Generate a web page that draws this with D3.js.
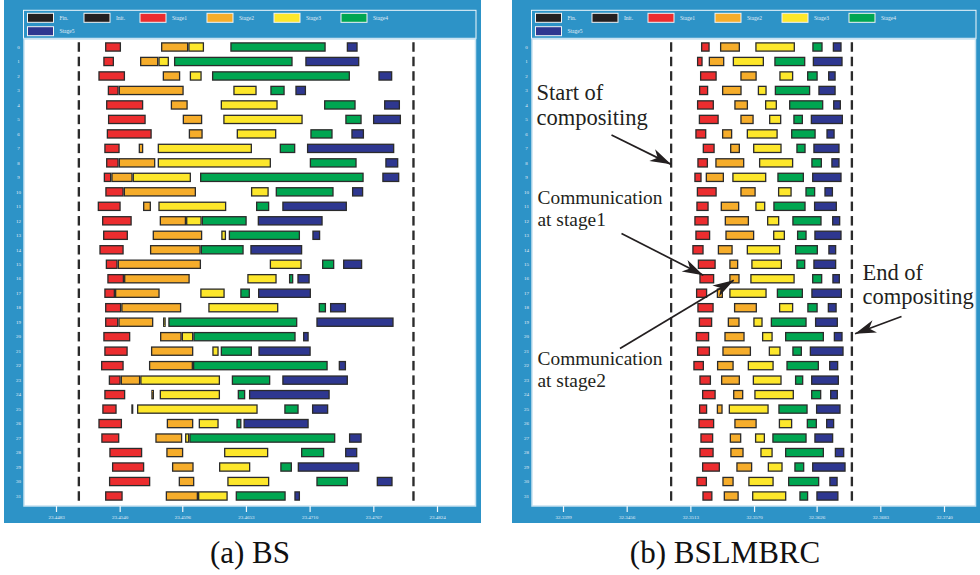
<!DOCTYPE html>
<html>
<head>
<meta charset="utf-8">
<script src="https://cdn.jsdelivr.net/npm/d3@7"></script>
<style>
  body { margin: 0; background: #fff; }
  svg { display: block; }
</style>
</head>
<body>
<svg id="chart" width="980" height="575"></svg>
<script>
// ---- shared ----
const legendNames = ["Fin.", "Init.", "Stage1", "Stage2", "Stage3", "Stage4", "Stage5"];
const legendColors = ["#231f20", "#231f20", "#ec2d2f", "#f6ad2b", "#fde72b", "#00a651", "#2e3790"];
const rowIds = d3.range(32);

// ---- (a) BS : times in ms after the origin (seconds) ----
const bsOrigin = 23.4483;
const bsTicks = [23.4483, 23.4540, 23.4596, 23.4653, 23.4710, 23.4767, 23.4824];
const bsInit = [1.94, 2.15];
const bsFin = [31.89, 32.10];
const bsStage1 = [[4.39,5.82],[4.23,5.19],[3.79,6.18],[4.63,5.61],[4.48,7.81],[4.65,8.03],[4.54,8.57],[4.32,5.70],
  [4.48,5.61],[4.27,4.95],[4.41,6.06],[3.73,5.79],[4.12,6.78],[4.21,6.44],[3.88,6.06],[4.45,5.52],
  [4.59,6.09],[4.32,5.28],[4.39,5.84],[4.39,5.58],[4.23,6.65],[4.32,6.42],[4.03,6.06],[4.72,5.79],
  [4.32,6.20],[4.14,5.43],[3.79,5.91],[4.05,5.67],[4.77,7.72],[5.01,7.90],[4.74,8.44],[4.39,5.97]];
const bsStage2 = [[9.40,11.84],[7.52,9.16],[9.55,11.12],[5.61,11.43],[10.27,11.79],[11.34,13.09],[11.88,13.13],[7.40,7.81],
  [5.61,8.89],[4.95,6.86],[6.06,12.53],[7.79,8.50],[9.28,11.64],[8.65,13.09],[8.41,12.95],[5.52,12.98],
  [6.09,11.97],[5.28,9.28],[5.84,11.21],[5.58,8.71],[9.31,11.25],[8.50,12.29],[8.32,12.26],[5.79,7.54],
  [8.53,8.77],[6.74,6.92],[9.91,12.29],[8.89,11.30],[9.87,11.39],[10.38,12.32],[10.98,12.38],[9.82,12.71]];
const bsStage3 = [[11.84,13.25],[9.16,10.11],[11.97,13.04],[15.87,17.96],[14.74,19.84],[14.97,22.08],[16.17,19.72],[9.10,17.54],
  [9.10,19.24],[6.86,12.08],[17.45,19.04],[9.16,15.24],[11.64,13.04],[14.79,15.22],null,[19.13,21.99],
  [17.12,19.75],[12.91,15.10],[13.63,19.90],[9.58,9.82],[11.25,12.29],[13.99,14.56],null,[7.54,14.68],
  [9.28,14.68],[7.25,18.05],[12.77,14.56],[11.55,11.93],[15.04,19.00],[14.59,17.39],[15.33,19.09],[12.71,15.37]];
const bsStage4 = [[15.60,24.14],[10.56,21.18],[13.96,26.31],[19.18,20.47],[23.99,26.82],[25.89,27.36],[22.76,24.76],[20.02,21.42],
  [22.71,26.91],[12.89,27.54],[19.66,24.85],[17.90,19.09],[13.04,17.07],[15.46,21.84],[12.95,16.80],[23.81,24.91],
  [20.85,21.24],[16.49,17.36],[23.51,24.17],[10.05,21.60],[12.29,21.45],[14.74,17.54],[12.26,24.32],[15.73,19.18],
  [16.26,16.94],[20.43,21.72],[16.14,16.60],[11.93,25.00],[21.93,24.01],[20.07,21.12],[23.30,26.13],[16.08,20.56]];
const bsStage5 = [[26.02,27.00],[22.31,27.15],[28.85,30.10],[21.42,22.38],[29.36,30.79],[28.37,30.88],[26.43,27.57],[22.46,30.28],
  [29.47,30.64],[29.20,30.73],[26.49,27.50],[20.25,26.04],[18.05,23.87],[22.94,23.65],[17.39,22.04],[25.69,27.41],
  [21.60,22.71],[18.08,22.82],[24.52,25.96],[23.30,30.22],[22.11,22.62],[18.11,22.80],[25.30,25.96],[20.25,26.13],
  [17.27,24.50],[22.91,24.37],[16.78,22.62],[26.22,27.36],[25.87,26.97],[21.63,27.15],[28.70,30.13],[21.33,21.84]];

// ---- (b) BSLMBRC ----
const lmOrigin = 32.3399;
const lmTicks = [32.3399, 32.3456, 32.3513, 32.3570, 32.3626, 32.3683, 32.3740];
const lmInit = [9.58, 9.78];
const lmFin = [25.75, 25.96];
const lmStage1 = [[12.35,13.13],[11.99,12.50],[12.26,13.76],[12.17,13.00],[11.99,13.51],[12.15,13.94],[11.84,12.83],[12.50,13.58],
  [12.02,12.98],[11.75,12.41],[11.97,13.76],[11.93,13.04],[11.75,13.04],[11.84,13.18],[11.57,12.59],[12.06,13.67],
  [12.20,13.54],[11.90,12.91],[12.02,13.49],[12.15,13.36],[11.88,13.09],[11.99,13.16],[11.66,12.62],[12.20,13.25],
  [12.44,13.67],[12.17,12.91],[12.11,13.54],[12.29,13.45],[12.20,13.49],[12.44,14.05],[11.93,12.89],[12.47,13.38]];
const lmStage2 = [[14.05,15.84],[13.04,14.44],[15.87,17.34],[14.23,15.99],[15.33,16.56],[15.87,17.07],[14.23,15.15],[14.95,15.84],
  [13.63,16.23],[12.77,14.41],[15.87,17.25],[14.11,15.78],[14.47,16.65],[14.53,17.12],[13.85,15.19],[14.88,15.69],
  [14.88,15.81],[13.76,14.32],[15.30,17.36],[14.74,15.81],[14.44,16.26],[14.26,16.83],[13.78,15.28],[14.14,15.84],
  [15.22,16.14],[13.76,14.29],[15.33,17.34],[14.92,15.96],[14.97,16.17],[15.51,16.94],[14.26,15.28],[14.38,15.73]];
const lmStage3 = [[17.21,20.76],[15.19,17.99],[19.36,20.61],[17.43,18.23],[18.08,19.15],[18.44,19.54],[16.44,19.22],[17.01,19.57],
  [17.54,20.61],[15.15,18.20],[19.24,20.47],[17.21,18.11],[18.26,19.36],[18.80,19.87],[16.44,19.45],[16.85,19.60],
  [16.76,20.74],[14.88,18.23],[19.33,20.61],[17.03,17.87],[17.81,18.77],[18.41,19.48],[16.53,18.86],[16.98,19.57],
  [17.12,20.67],[14.83,18.41],[19.31,20.52],[17.18,18.08],[17.66,18.77],[18.32,19.66],[16.58,18.86],[16.92,19.99]];
const lmStage4 = [[22.31,23.24],[18.91,21.69],[21.84,22.80],[18.95,22.13],[20.23,23.30],[20.61,21.48],[20.41,22.62],[20.88,21.72],
  [22.22,23.18],[19.18,21.57],[21.69,22.58],[18.82,21.72],[20.52,23.15],[20.94,21.81],[20.76,22.82],[20.88,21.69],
  [22.29,23.21],[19.13,21.48],[21.86,22.80],[18.59,21.81],[19.87,23.36],[20.52,21.39],[19.99,22.91],[20.76,21.51],
  [22.20,23.12],[19.27,21.90],[21.81,22.73],[18.73,21.81],[19.87,23.36],[20.70,21.60],[20.14,22.94],[21.15,21.95]];
const lmStage5 = [[24.14,24.94],[22.35,25.03],[23.72,24.41],[22.85,24.41],[24.17,24.88],[22.17,25.06],[23.57,24.32],[22.40,24.76],
  [24.01,24.76],[22.29,24.94],[23.39,24.17],[22.46,24.52],[24.08,24.82],[22.49,24.94],[23.74,24.46],[22.40,24.46],
  [24.10,24.79],[22.22,24.97],[23.69,24.50],[22.55,24.61],[24.23,25.03],[22.08,25.12],[23.81,24.64],[22.20,24.70],
  [23.90,24.61],[22.64,24.85],[23.54,24.28],[22.49,24.19],[24.32,25.18],[22.29,25.30],[23.83,24.59],[22.67,24.66]];

// ---- drawing ----
const svg = d3.select("#chart");
const BLUE = "#2d93c7";
const LIGHT = "#e4eff7";
const SERIF = "'Liberation Serif', 'Times New Roman', serif";
const BAR_H = 8.2, BAR_SW = 1.3;

const defs = svg.append("defs");
defs.append("marker")
  .attr("id", "head").attr("markerUnits", "userSpaceOnUse")
  .attr("viewBox", "-22 -8 24 16").attr("refX", 0).attr("refY", 0)
  .attr("markerWidth", 24).attr("markerHeight", 16).attr("orient", "auto")
  .append("path").attr("d", "M0,0 L-21,-6.5 L-15,0 L-21,6.5 Z").attr("fill", "#231f20");

function drawPanel(cfg) {
  const g = svg.append("g");
  const { left, right } = cfg;           // outer blue frame in px
  const top = 0, bottom = 523;
  const plotL = left + 20, plotR = right - 5.5, plotT = 39, plotB = 506;

  g.append("rect").attr("x", left).attr("y", top).attr("width", right - left).attr("height", bottom - top).attr("fill", BLUE);
  // legend strip
  g.append("rect").attr("x", plotL - 0.5).attr("y", 10.3).attr("width", plotR - plotL + 1).attr("height", 28)
    .attr("fill", BLUE).attr("stroke", "#f2f8fc").attr("stroke-width", 1);
  // plot area
  g.append("rect").attr("x", plotL).attr("y", plotT).attr("width", plotR - plotL).attr("height", plotB - plotT)
    .attr("fill", "#fff").attr("stroke", "#c7e2f1").attr("stroke-width", 1.5);

  // legend entries
  const legX = [0, 56.5, 112.5, 179.5, 246.5, 313.5, 0];
  const legY = [13.3, 13.3, 13.3, 13.3, 13.3, 13.3, 26.7];
  const leg = g.selectAll("g.leg").data(legendNames).join("g")
    .attr("transform", (d, i) => `translate(${plotL + 3.5 + legX[i]},${legY[i]})`);
  leg.append("rect").attr("width", 26).attr("height", 9)
    .attr("fill", (d, i) => legendColors[i]).attr("stroke", "#f4f4f4").attr("stroke-width", 1);
  leg.append("text").attr("x", 32).attr("y", 6.3).text(d => d)
    .attr("font-family", SERIF).attr("font-size", 5.5).attr("fill", LIGHT);

  // scales
  const x = d3.scaleLinear().domain([cfg.ticks[0], cfg.ticks[cfg.ticks.length - 1]]).range(cfg.tickRange);
  const y = d3.scalePoint().domain(rowIds).range([47, 496]);
  const t = ms => cfg.origin + ms / 1000;

  // row labels
  g.selectAll("text.row").data(rowIds).join("text")
    .attr("x", left + 14.5).attr("y", d => y(d)).attr("dy", "0.35em")
    .attr("text-anchor", "middle").attr("font-family", SERIF).attr("font-size", 5)
    .attr("fill", LIGHT).text(d => d);

  // x axis
  const axis = d3.axisBottom(x).tickValues(cfg.ticks).tickFormat(d3.format(".4f")).tickSize(6).tickPadding(3);
  const ax = g.append("g").attr("transform", `translate(0,${plotB})`).call(axis);
  ax.select(".domain").remove();
  ax.selectAll(".tick line").attr("stroke", "#f2f8fc").attr("stroke-width", 1.2);
  ax.selectAll(".tick text").attr("fill", LIGHT).attr("font-family", SERIF).attr("font-size", 5);

  // bars
  const series = [
    { data: rowIds.map(() => cfg.init), color: legendColors[1] },
    { data: rowIds.map(() => cfg.fin), color: legendColors[0] },
    { data: cfg.stages[0], color: legendColors[2] },
    { data: cfg.stages[1], color: legendColors[3] },
    { data: cfg.stages[2], color: legendColors[4] },
    { data: cfg.stages[3], color: legendColors[5] },
    { data: cfg.stages[4], color: legendColors[6] }
  ];
  series.forEach(s => {
    const items = s.data.map((v, i) => ({ v, i })).filter(d => d.v);
    g.append("g").selectAll("rect").data(items).join("rect")
      .attr("x", d => x(t(d.v[0])) + BAR_SW / 2)
      .attr("width", d => Math.max(0.6, x(t(d.v[1])) - x(t(d.v[0])) - BAR_SW))
      .attr("y", d => y(d.i) - BAR_H / 2)
      .attr("height", BAR_H)
      .attr("fill", s.color)
      .attr("stroke", "#2b2b2b").attr("stroke-width", BAR_SW);
  });

  g.append("text").attr("x", cfg.captionX).attr("y", 563).attr("text-anchor", "middle")
    .attr("font-family", SERIF).attr("font-size", 31).attr("fill", "#111").text(cfg.caption);

  return { x, y, t };
}

drawPanel({
  left: 4, right: 481, ticks: bsTicks, tickRange: [56, 437], origin: bsOrigin,
  init: bsInit, fin: bsFin, stages: [bsStage1, bsStage2, bsStage3, bsStage4, bsStage5],
  caption: "(a) BS", captionX: 250
});

const pb = drawPanel({
  left: 512, right: 981, ticks: lmTicks, tickRange: [563, 944], origin: lmOrigin,
  init: lmInit, fin: lmFin, stages: [lmStage1, lmStage2, lmStage3, lmStage4, lmStage5],
  caption: "(b) BSLMBRC", captionX: 725
});

// annotations on panel (b)
const ann = svg.append("g").attr("font-family", SERIF).attr("fill", "#231f20");
function label(lines, x0, y0, size, lh) {
  lines.forEach((s, k) => ann.append("text").attr("x", x0).attr("y", y0 + k * lh).attr("font-size", size).text(s));
}
label(["Start of", "compositing"], 536.5, 99.5, 22.5, 25.5);
label(["Communication", "at stage1"], 537.5, 203.5, 19.4, 22.5);
label(["Communication", "at stage2"], 537.5, 365, 19.4, 22);
label(["End of", "compositing"], 862.5, 279.5, 22.5, 24.5);

function arrow(x1, y1, x2, y2) {
  ann.append("line").attr("x1", x1).attr("y1", y1).attr("x2", x2).attr("y2", y2)
    .attr("stroke", "#231f20").attr("stroke-width", 1.7).attr("marker-end", "url(#head)");
}
const { x: xb, y: yb, t: tb } = pb;
arrow(611.5, 135, xb(tb(lmInit[0])) + 1, yb(8) + 1.5);
arrow(621.5, 233.5, xb(tb(lmStage1[16][0])) + 4, yb(16) - 3.5);
arrow(620, 348.5, xb(tb(lmStage2[16][0])) + 4.5, yb(16) + 1.5);
arrow(901.5, 316.5, xb(tb(lmFin[1])) + 2, yb(20) - 3);
</script>
</body>
</html>
